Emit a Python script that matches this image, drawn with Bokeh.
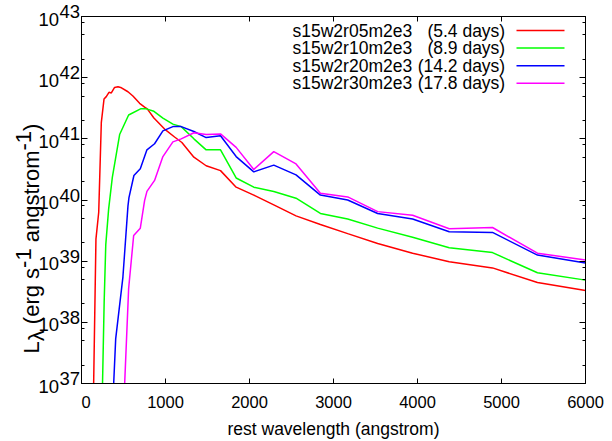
from bokeh.plotting import figure
from bokeh.layouts import row, column
from bokeh.models import FixedTicker, LinearAxis, LogAxis, Label, CustomJSTickFormatter, Range1d, Spacer
from bokeh.embed import file_html
from bokeh.resources import INLINE

# ---------------- data ----------------
names = ["s15w2r05m2e3", "s15w2r10m2e3", "s15w2r20m2e3", "s15w2r30m2e3"]
epochs = ["(5.4 days)", "(8.9 days)", "(14.2 days)", "(17.8 days)"]
colors = ["#ff0000", "#00ff00", "#0000ff", "#ff00ff"]

r05_wave = [140, 172, 205, 236, 268, 295, 327, 355, 394, 434, 466, 553, 612, 692,
            751, 783, 862, 989, 1108, 1195, 1338, 1484, 1655, 1841, 2051, 2289,
            2554, 2844, 3169, 3526, 3942, 4378, 4893, 5428, 6000]
r05_logL = [36.6, 39.36, 39.80, 41.27, 41.65, 41.69, 41.76, 41.75, 41.84, 41.85, 41.84,
            41.77, 41.70, 41.58, 41.52, 41.49, 41.34, 41.16, 41.03, 40.94, 40.70,
            40.56, 40.48, 40.21, 40.08, 39.92, 39.74, 39.60, 39.45, 39.29, 39.13,
            38.99, 38.89, 38.65, 38.52]

r10_wave = [240, 270, 289, 323, 367, 454, 561, 703, 771, 862, 969, 1088, 1187, 1338,
            1484, 1655, 1841, 2051, 2289, 2554, 2844, 3169, 3526, 3942, 4378, 4893,
            5428, 6000]
r10_logL = [36.3, 38.35, 39.27, 39.85, 40.37, 41.07, 41.39, 41.49, 41.49, 41.45, 41.34,
            41.24, 41.20, 41.00, 40.82, 40.82, 40.36, 40.21, 40.14, 40.03, 39.78,
            39.69, 39.54, 39.39, 39.22, 39.14, 38.81, 38.69]

r20_wave = [370, 407, 493, 553, 565, 624, 700, 779, 870, 969, 1088, 1187, 1338, 1484,
            1655, 1841, 2051, 2289, 2554, 2844, 3169, 3526, 3942, 4378, 4893, 5428,
            6000]
r20_logL = [36.6, 37.73, 38.74, 39.90, 40.04, 40.40, 40.51, 40.82, 40.92, 41.13, 41.20,
            41.20, 41.12, 41.02, 41.05, 40.71, 40.46, 40.57, 40.41, 40.08, 40.00,
            39.78, 39.69, 39.48, 39.47, 39.10, 38.97]

r30_wave = [500, 561, 621, 700, 751, 779, 870, 969, 1088, 1187, 1338, 1484, 1655, 1841,
            2051, 2289, 2554, 2844, 3169, 3526, 3942, 4378, 4893, 5428, 6000]
r30_logL = [36.54, 38.55, 39.42, 39.54, 39.99, 40.14, 40.32, 40.71, 40.95, 41.00, 41.10,
            41.07, 41.08, 40.86, 40.50, 40.79, 40.59, 40.11, 40.05, 39.81, 39.75,
            39.53, 39.55, 39.13, 39.02]

x_ticks = [0, 1000, 2000, 3000, 4000, 5000, 6000]
y_exponents = [37, 38, 39, 40, 41, 42, 43]
minor_mantissas = [2, 5, 8]

series = [(r05_wave, r05_logL), (r10_wave, r10_logL), (r20_wave, r20_logL), (r30_wave, r30_logL)]

# ---------------- layout ----------------
FONT = "Liberation Sans"
SIDE_W = 81                 # width of the left text panel
TOP, FW, FH, BOT = 16, 504, 367, 57
PAGE_H = TOP + FH + BOT
XMIN, XMAX = x_ticks[0], x_ticks[-1]
EMIN, EMAX = y_exponents[0], y_exponents[-1]
DEC = FH / (EMAX - EMIN)    # pixels per decade


def dx(px):  # pixels from frame left -> data x
    return XMIN + (XMAX - XMIN) * px / FW


def dy(py):  # pixels from frame top -> data y (log axis)
    return 10 ** (EMAX - py / DEC)


def page_y(yp):  # page pixel y -> log data y (same mapping as main frame)
    return 10 ** (EMAX - (yp - TOP) / DEC)


p = figure(frame_width=FW, frame_height=FH, x_range=(XMIN, XMAX),
           y_range=(10.0 ** EMIN, 10.0 ** EMAX), y_axis_type="log",
           output_backend="svg", toolbar_location=None, title=None,
           min_border_left=0, min_border_right=20, min_border_top=0, min_border_bottom=BOT,
           background_fill_color="white", border_fill_color="white")
p.grid.visible = False
p.outline_line_color = "black"
p.outline_line_width = 1

xt = FixedTicker(ticks=x_ticks, minor_ticks=[])
yt = FixedTicker(ticks=[10.0 ** e for e in y_exponents],
                 minor_ticks=[m * 10.0 ** e for e in y_exponents[:-1] for m in minor_mantissas])

xa = p.xaxis[0]
ya = p.yaxis[0]
xa.ticker = xt
ya.ticker = yt
ya.formatter = CustomJSTickFormatter(code="return ''")
top = LinearAxis(ticker=xt, formatter=CustomJSTickFormatter(code="return ''"))
right = LogAxis(ticker=yt, formatter=CustomJSTickFormatter(code="return ''"))
p.add_layout(top, "above")
p.add_layout(right, "right")

for ax in [xa, ya, top, right]:
    ax.major_tick_in = 6
    ax.major_tick_out = 0
    ax.minor_tick_in = 3
    ax.minor_tick_out = 0
    ax.axis_line_color = "black"
    ax.axis_line_width = 1
    ax.major_tick_line_color = "black"
    ax.minor_tick_line_color = "black"
for ax in [ya, top, right]:
    ax.major_label_text_font_size = "0px"
    ax.major_label_standoff = 0
xa.major_tick_in = 5
top.major_tick_in = 5
xa.major_label_text_font = FONT
xa.major_label_text_font_size = "16.5px"
xa.major_label_text_color = "black"
xa.major_label_standoff = 12
xa.axis_label = "rest wavelength (angstrom)"
xa.axis_label_text_font = FONT
xa.axis_label_text_font_size = "17.5px"
xa.axis_label_text_font_style = "normal"
xa.axis_label_text_color = "black"
xa.axis_label_standoff = 8

for (w, l), c in zip(series, colors):
    p.line(w, [10 ** v for v in l], line_color=c, line_width=1.5)

# legend (inside the frame, gnuplot style: text then sample line)
row_py = [14, 31.6, 49.2, 66.8]
for n, ep, c, ry in zip(names, epochs, colors, row_py):
    p.add_layout(Label(x=dx(211), y=dy(ry), text=n, text_font=FONT, text_font_size="17.5px",
                       text_align="left", text_baseline="middle", text_color="black"))
    p.add_layout(Label(x=dx(423.7), y=dy(ry), text=ep, text_font=FONT, text_font_size="17.5px",
                       text_align="right", text_baseline="middle", text_color="black"))
    p.segment(x0=[dx(435)], x1=[dx(483)], y0=[dy(ry)], y1=[dy(ry)], line_color=c, line_width=1.5)

# ---------------- side panel: y tick labels and y title ----------------
side = figure(frame_width=SIDE_W, frame_height=PAGE_H, x_range=Range1d(0, SIDE_W),
              y_range=Range1d(page_y(PAGE_H), page_y(0)), y_axis_type="log",
              x_axis_location=None, y_axis_location=None, title=None,
              output_backend="svg", toolbar_location=None,
              min_border_left=0, min_border_right=0, min_border_top=0, min_border_bottom=0,
              outline_line_color=None, background_fill_color="white",
              border_fill_color="white")
side.grid.visible = False

for e in y_exponents:
    side.add_layout(Label(x=58.5, y=10.0 ** e, text="10", text_font=FONT,
                          text_font_size="18.5px", text_align="right", text_baseline="middle",
                          y_offset=-2.6, text_color="black"))
    side.add_layout(Label(x=59, y=10.0 ** e, text=str(e), text_font=FONT,
                          text_font_size="18.5px", text_align="left", text_baseline="middle",
                          y_offset=4.9, text_color="black"))

W = {'L': .556, 'λ': .5, 'e': .556, 'r': .333, 'g': .556, 's': .5, '(': .333, ')': .333,
     ' ': .278, '-': .333, '1': .556, 'a': .556, 'n': .556, 't': .278, 'o': .556, 'm': .833}
f = 22
pieces = [("L", 0, 0), ("λ", 5, 0), ("(erg s", 0, 1), ("-1", -8, 0), ("angstrom", 0, 1),
          ("-1", -8, 0), (")", 0, 0)]
yp = 353
for txt, shift, gap in pieces:
    yp -= gap * W[' '] * f
    side.add_layout(Label(x=31, y=page_y(yp), text=txt, text_font=FONT,
                          text_font_size=f"{f}px", angle=1.5707963, text_align="left",
                          text_baseline="alphabetic", x_offset=shift, text_color="black"))
    yp -= sum(W.get(ch, .556) for ch in txt) * f

layout = row(side, column(Spacer(width=FW, height=TOP), p))
open("out.html", "w").write(file_html(layout, INLINE))
